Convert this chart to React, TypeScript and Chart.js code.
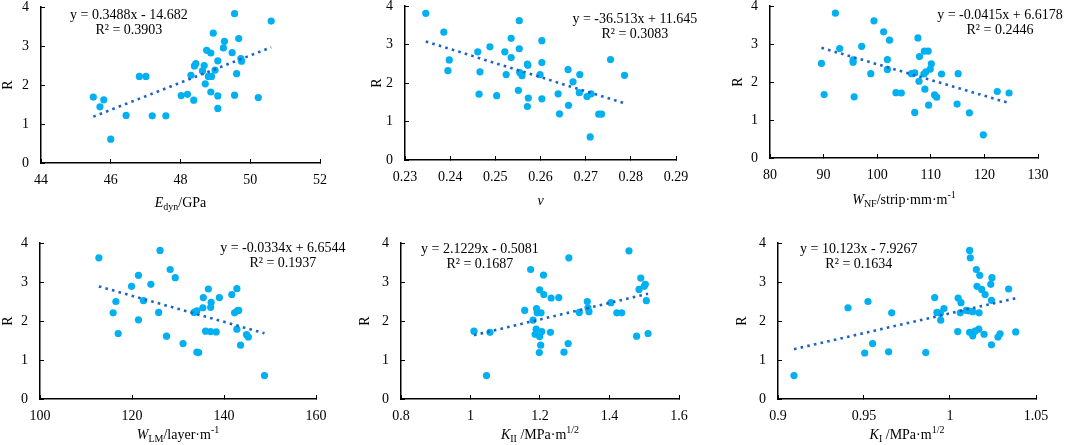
import React, { useEffect, useRef } from 'react';
import { Chart, registerables } from 'chart.js';
Chart.register(...registerables);

const FONT = "'Liberation Serif', 'Times New Roman', serif";
const POINT_COLOR = '#00B0F0';
const TREND_COLOR = '#1E63C4';

const yTicks = [0, 1, 2, 3, 4];

// Panel 1: E_dyn
const edynX = [45.50, 45.69, 45.80, 46.00, 46.44, 46.82, 47.01, 47.19, 47.58, 48.02, 48.20, 48.30, 48.38, 48.40, 48.44, 48.63, 48.68, 48.71, 48.75, 48.80, 48.87, 48.87, 48.89, 48.94, 48.99, 49.07, 49.07, 49.07, 49.23, 49.26, 49.48, 49.55, 49.55, 49.61, 49.67, 49.73, 49.75, 50.23, 50.60];
const edynR = [1.69, 1.44, 1.62, 0.61, 1.22, 2.22, 2.22, 1.21, 1.21, 1.73, 1.76, 2.25, 1.61, 2.49, 2.55, 2.36, 2.50, 2.03, 2.89, 2.22, 2.82, 1.82, 2.22, 3.33, 2.38, 2.62, 1.72, 1.40, 2.95, 3.12, 2.83, 3.83, 1.74, 2.29, 3.19, 2.68, 2.61, 1.68, 3.64];
const edynTicks = [44, 46, 48, 50, 52];
const edynFit = { slope: 0.3488, intercept: -14.682, r2: '0.3903' };

// Panel 2: Poisson's ratio v
const nuX = [0.2346, 0.2386, 0.2398, 0.2395, 0.2461, 0.2464, 0.2466, 0.2488, 0.2503, 0.2521, 0.2524, 0.2535, 0.2535, 0.2551, 0.2553, 0.2553, 0.2554, 0.2559, 0.2571, 0.2572, 0.2571, 0.2573, 0.2599, 0.2603, 0.2603, 0.2603, 0.2639, 0.2642, 0.2661, 0.2662, 0.2672, 0.2687, 0.2686, 0.2703, 0.2710, 0.2712, 0.2729, 0.2735, 0.2755, 0.2786];
const nuR = [3.81, 3.32, 2.60, 2.32, 2.81, 1.71, 2.29, 2.94, 1.67, 2.81, 2.22, 3.16, 2.66, 1.81, 3.62, 2.89, 2.27, 2.19, 2.49, 2.46, 1.39, 1.61, 2.22, 2.53, 3.10, 1.59, 1.72, 1.20, 2.35, 1.42, 2.03, 2.22, 1.75, 1.65, 0.60, 1.72, 1.19, 1.19, 2.61, 2.20];
const nuTicks = [0.23, 0.24, 0.25, 0.26, 0.27, 0.28, 0.29];
const nuFit = { slope: -36.513, intercept: 11.645, r2: '0.3083' };

// Panel 3: W_NF
const wnfX = [89.6, 90.1, 92.2, 93.0, 95.5, 95.5, 95.7, 97.1, 98.8, 99.4, 101.2, 101.9, 101.9, 102.3, 103.5, 104.5, 106.4, 107.0, 107.0, 107.6, 107.8, 107.9, 108.8, 108.7, 108.9, 109.1, 109.5, 109.6, 109.9, 110.1, 110.7, 111.1, 112.0, 114.9, 115.1, 117.2, 119.8, 122.4, 124.6];
const wnfR = [2.49, 1.67, 3.81, 2.88, 2.58, 2.52, 1.61, 2.94, 2.22, 3.61, 3.32, 2.59, 2.33, 3.10, 1.72, 1.71, 2.22, 2.24, 1.20, 3.16, 2.02, 2.67, 2.81, 2.21, 1.81, 2.27, 2.81, 1.39, 2.34, 2.48, 1.66, 1.60, 2.21, 1.42, 2.22, 1.19, 0.61, 1.75, 1.71];
const wnfTicks = [80, 90, 100, 110, 120, 130];
const wnfFit = { slope: -0.0415, intercept: 6.6178, r2: '0.2446' };

// Panel 4: W_LM
const wlmX = [112.8, 115.9, 116.5, 117.0, 119.9, 121.4, 121.4, 122.5, 124.1, 125.8, 126.1, 127.5, 128.3, 129.4, 131.1, 133.5, 134.1, 134.1, 134.5, 135.4, 135.5, 136.0, 136.6, 137.1, 137.2, 137.1, 138.3, 139.0, 141.7, 142.3, 142.8, 142.8, 142.9, 143.2, 143.6, 144.9, 145.3, 148.8];
const wlmR = [3.62, 2.21, 2.50, 1.68, 2.89, 3.17, 2.03, 2.52, 2.94, 2.22, 3.81, 1.61, 3.32, 3.11, 1.42, 2.22, 2.26, 1.20, 1.19, 2.34, 2.60, 1.74, 2.82, 2.35, 2.48, 1.73, 1.72, 2.60, 2.68, 2.21, 2.83, 1.79, 2.26, 2.27, 1.38, 1.65, 1.59, 0.60];
const wlmTicks = [100, 120, 140, 160];
const wlmFit = { slope: -0.0334, intercept: 6.6544, r2: '0.1937' };

// Panel 5: K_II
const k2X = [1.010, 1.046, 1.056, 1.156, 1.173, 1.180, 1.186, 1.189, 1.190, 1.192, 1.199, 1.199, 1.198, 1.202, 1.203, 1.205, 1.210, 1.211, 1.230, 1.232, 1.254, 1.269, 1.281, 1.283, 1.313, 1.336, 1.338, 1.341, 1.404, 1.421, 1.435, 1.456, 1.478, 1.485, 1.490, 1.500, 1.503, 1.506, 1.511];
const k2R = [1.74, 0.60, 1.71, 2.27, 3.32, 2.02, 1.66, 1.79, 2.32, 2.21, 2.80, 1.60, 1.19, 1.38, 2.21, 1.73, 3.18, 2.68, 1.71, 2.59, 2.60, 1.20, 1.42, 3.62, 2.22, 2.50, 2.34, 2.24, 2.47, 2.21, 2.21, 3.80, 1.61, 2.81, 3.10, 2.89, 2.94, 2.52, 1.68];
const k2Ticks = [0.8, 1.0, 1.2, 1.4, 1.6];
const k2Fit = { slope: 2.1229, intercept: -0.5081, r2: '0.1687' };

// Panel 6: K_I
const k1X = [0.9093, 0.9407, 0.9504, 0.9523, 0.9550, 0.9643, 0.9661, 0.9859, 0.9911, 0.9924, 0.9944, 0.9946, 0.9965, 1.0045, 1.0047, 1.0060, 1.0064, 1.0095, 1.0107, 1.0114, 1.0118, 1.0114, 1.0132, 1.0132, 1.0145, 1.0153, 1.0157, 1.0167, 1.0169, 1.0173, 1.0184, 1.0198, 1.0204, 1.0237, 1.0241, 1.0241, 1.0244, 1.0279, 1.0291, 1.0341, 1.0382];
const k1R = [0.60, 2.34, 1.18, 2.50, 1.42, 1.21, 2.21, 1.19, 2.60, 2.22, 2.20, 2.02, 2.32, 1.73, 2.59, 2.21, 2.47, 2.27, 2.26, 3.81, 3.62, 1.71, 2.24, 1.62, 1.74, 3.32, 2.89, 1.79, 2.21, 3.17, 2.81, 1.66, 2.68, 2.94, 1.39, 2.53, 3.11, 1.59, 1.67, 2.82, 1.72];
const k1Ticks = [0.9, 0.95, 1.0, 1.05];
const k1Fit = { slope: 10.123, intercept: -7.9267, r2: '0.1634' };

type Seg = { t: string; italic?: boolean; sub?: boolean; sup?: boolean };

const titles: Seg[][] = [
  [{ t: 'E', italic: true }, { t: 'dyn', sub: true }, { t: '/GPa' }],
  [{ t: 'v', italic: true }],
  [{ t: 'W', italic: true }, { t: 'NF', sub: true }, { t: '/strip·mm·m' }, { t: '-1', sup: true }],
  [{ t: 'W', italic: true }, { t: 'LM', sub: true }, { t: '/layer·m' }, { t: '-1', sup: true }],
  [{ t: 'K', italic: true }, { t: 'II', sub: true }, { t: ' /MPa·m' }, { t: '1/2', sup: true }],
  [{ t: 'K', italic: true }, { t: 'I', sub: true }, { t: ' /MPa·m' }, { t: '1/2', sup: true }],
];

const panelData = [
  { xs: edynX, ys: edynR, ticks: edynTicks, fit: edynFit },
  { xs: nuX, ys: nuR, ticks: nuTicks, fit: nuFit },
  { xs: wnfX, ys: wnfR, ticks: wnfTicks, fit: wnfFit },
  { xs: wlmX, ys: wlmR, ticks: wlmTicks, fit: wlmFit },
  { xs: k2X, ys: k2R, ticks: k2Ticks, fit: k2Fit },
  { xs: k1X, ys: k1R, ticks: k1Ticks, fit: k1Fit },
];

// layout: container box [left, top, w, h], plot area [l, t, r, b] in page px,
// equation anchor in data units
const layouts = [
  { box: [0, 0, 355, 222], area: [41, 7, 320, 163], titleDy: 39, rDx: 33, eq: [46.52, 3.79] },
  { box: [355, 0, 355, 222], area: [405, 6, 676, 160], titleDy: 40, rDx: 28, eq: [0.2809, 3.66] },
  { box: [710, 0, 355, 222], area: [770, 6, 1038, 158], titleDy: 41, rDx: 32, eq: [122.9, 3.76] },
  { box: [0, 222, 355, 223], area: [40, 243, 316, 399], titleDy: 35, rDx: 32, eq: [152.8, 3.87] },
  { box: [355, 222, 355, 223], area: [401, 243, 679, 399], titleDy: 35, rDx: 36, eq: [1.027, 3.85] },
  { box: [710, 222, 355, 223], area: [778, 243, 1036, 399], titleDy: 35, rDx: 36, eq: [0.947, 3.85] },
];

function fmt(v: number) {
  return String(Number(v.toFixed(6)));
}

function drawRich(ctx: CanvasRenderingContext2D, segs: Seg[], cx: number, cy: number) {
  const items = segs.map((s) => {
    const size = s.sub || s.sup ? 10 : 14;
    const font = `${s.italic ? 'italic ' : ''}${size}px ${FONT}`;
    ctx.font = font;
    return { ...s, font, w: ctx.measureText(s.t).width };
  });
  const total = items.reduce((a, b) => a + b.w, 0);
  let x = cx - total / 2;
  const baseline = cy + 4.6;
  ctx.textAlign = 'left';
  ctx.textBaseline = 'alphabetic';
  for (const it of items) {
    ctx.font = it.font;
    const dy = it.sub ? 3 : it.sup ? -5.5 : 0;
    ctx.fillText(it.t, x, baseline + dy);
    x += it.w;
  }
}

function Panel({ idx }: { idx: number }) {
  const ref = useRef<HTMLCanvasElement>(null);
  const d = panelData[idx];
  const L = layouts[idx];
  const [bl, bt, bw, bh] = L.box;
  const [al, at, ar, ab] = L.area;

  useEffect(() => {
    const xmin = Math.min(...d.xs);
    const xmax = Math.max(...d.xs);
    const { slope, intercept, r2 } = d.fit;
    const eqText = `y = ${slope}x ${intercept < 0 ? '-' : '+'} ${Math.abs(intercept)}`;
    const points = d.xs.map((x, i) => ({ x, y: d.ys[i] }));
    const trend = [
      { x: xmin, y: slope * xmin + intercept },
      { x: xmax, y: slope * xmax + intercept },
    ];
    const yW = al - bl;
    const xH = bt + bh - ab;
    const padTop = at - bt;
    const padRight = bl + bw - ar;

    const annot = {
      id: 'annot' + idx,
      afterDraw(chart: any) {
        const ctx: CanvasRenderingContext2D = chart.ctx;
        const xs = chart.scales.x;
        const ys = chart.scales.y;
        const a = chart.chartArea;
        ctx.save();
        ctx.fillStyle = '#000';
        ctx.font = `14px ${FONT}`;
        ctx.textAlign = 'center';
        ctx.textBaseline = 'middle';
        const ex = xs.getPixelForValue(L.eq[0]);
        const ey = ys.getPixelForValue(L.eq[1]);
        ctx.fillText(eqText, ex, ey);
        ctx.fillText(`R² = ${r2}`, ex, ey + 15);
        drawRich(ctx, titles[idx], (a.left + a.right) / 2, a.bottom + L.titleDy);
        ctx.translate(a.left - L.rDx, (a.top + a.bottom) / 2);
        ctx.rotate(-Math.PI / 2);
        ctx.font = `14px ${FONT}`;
        ctx.textAlign = 'center';
        ctx.textBaseline = 'middle';
        ctx.fillText('R', 0, 0);
        ctx.restore();
      },
    };

    const zeroPad = (s: any) => {
      s.paddingTop = 0;
      s.paddingBottom = 0;
      s.paddingLeft = 0;
      s.paddingRight = 0;
    };

    const chart = new Chart(ref.current as HTMLCanvasElement, {
      type: 'scatter',
      data: {
        datasets: [
          {
            type: 'line',
            data: trend,
            borderColor: TREND_COLOR,
            borderWidth: 2.6,
            borderDash: [2.6, 4.2],
            pointRadius: 0,
            fill: false,
            showLine: true,
            order: 0,
          } as any,
          {
            data: points,
            backgroundColor: POINT_COLOR,
            borderColor: POINT_COLOR,
            borderWidth: 0,
            pointRadius: 3.6,
            order: 1,
          },
        ],
      },
      options: {
        animation: false,
        responsive: true,
        maintainAspectRatio: false,
        events: [],
        layout: { padding: { left: 0, top: padTop, right: padRight, bottom: 0 } },
        plugins: { legend: { display: false }, tooltip: { enabled: false } },
        scales: {
          x: {
            type: 'linear',
            min: d.ticks[0],
            max: d.ticks[d.ticks.length - 1],
            afterBuildTicks: (s: any) => {
              s.ticks = d.ticks.map((v) => ({ value: v }));
            },
            afterFit: (s: any) => {
              s.height = xH;
              zeroPad(s);
            },
            ticks: {
              autoSkip: false,
              maxRotation: 0,
              padding: 13,
              color: '#000',
              font: { family: FONT, size: 14 },
              callback: (v: any) => fmt(Number(v)),
            },
            grid: {
              drawOnChartArea: false,
              drawTicks: true,
              tickLength: -4,
              color: '#000',
              lineWidth: 1,
            },
            border: { display: true, color: '#000', width: 1.5 },
          },
          y: {
            type: 'linear',
            min: 0,
            max: 4,
            afterBuildTicks: (s: any) => {
              s.ticks = yTicks.map((v) => ({ value: v }));
            },
            afterFit: (s: any) => {
              s.width = yW;
              zeroPad(s);
            },
            ticks: {
              padding: 16,
              color: '#000',
              font: { family: FONT, size: 14 },
              callback: (v: any) => fmt(Number(v)),
            },
            grid: {
              drawOnChartArea: false,
              drawTicks: true,
              tickLength: -4,
              color: '#000',
              lineWidth: 1,
            },
            border: { display: true, color: '#000', width: 1.5 },
          },
        },
      },
      plugins: [annot],
    });
    return () => chart.destroy();
  }, []);

  return (
    <div style={{ position: 'absolute', left: bl, top: bt, width: bw, height: bh }}>
      <canvas ref={ref} />
    </div>
  );
}

export default function App() {
  return (
    <div style={{ position: 'absolute', left: 0, top: 0, width: 1065, height: 445, background: '#fff', overflow: 'hidden' }}>
      {panelData.map((_, i) => (
        <Panel key={i} idx={i} />
      ))}
    </div>
  );
}
